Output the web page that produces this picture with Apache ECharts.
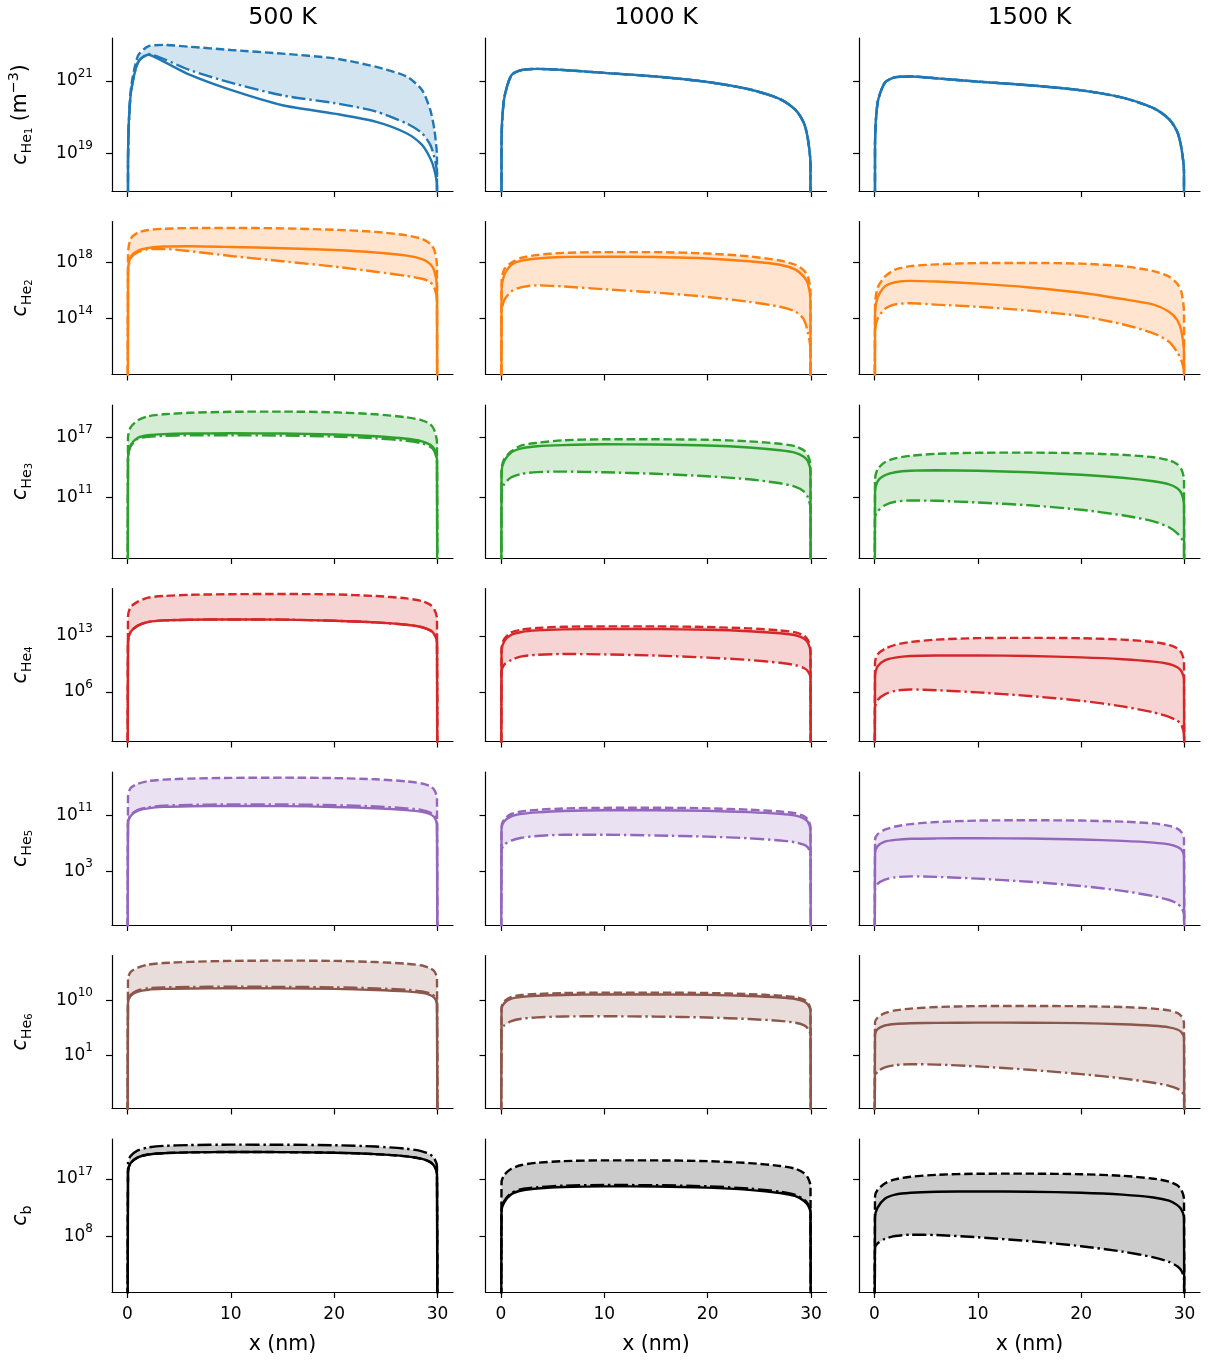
<!DOCTYPE html>
<html><head><meta charset="utf-8">
<script src="https://cdn.jsdelivr.net/npm/echarts@6/dist/echarts.min.js"></script>
<style>html,body{margin:0;padding:0;background:#fff}#c{width:1209px;height:1361px}</style>
</head><body><div id="c"></div>
<script>
// x positions (nm) where the profiles were read; concentration is zero at x = 0 and x = 30
const X = [0.05, 0.3, 1, 2, 3.5, 6, 10, 15, 20, 24, 27, 28.5, 29.3, 29.7, 29.95];
const temperatures = ['500 K', '1000 K', '1500 K'];
const xTicks = [0, 10, 20, 30];
// y tick exponents (log10) per row
const yTicks = [[19, 21], [14, 18], [11, 17], [6, 13], [3, 11], [1, 10], [8, 17]];
// values below are log10 of concentration (m^-3)
// He1
const he1_500_solid   = [18.7, 20.6, 21.5, 21.72, 21.53, 21.17, 20.75, 20.33, 20.1, 19.88, 19.56, 19.24, 18.87, 18.55, 18.1];
const he1_500_dashed  = [18.8, 20.7, 21.68, 21.95, 21.99, 21.94, 21.85, 21.75, 21.62, 21.39, 21.12, 20.75, 20.2, 19.65, 18.9];
const he1_500_dashdot = [18.7, 20.6, 21.5, 21.74, 21.6, 21.3, 20.95, 20.6, 20.39, 20.16, 19.83, 19.56, 19.24, 18.9, 18.46];
const he1_1000_solid   = [19.3, 20.5, 21.15, 21.3, 21.33, 21.3, 21.22, 21.12, 20.97, 20.77, 20.5, 20.2, 19.85, 19.4, 18.7];
const he1_1000_dashed  = [19.3, 20.5, 21.15, 21.3, 21.33, 21.3, 21.22, 21.12, 20.97, 20.77, 20.5, 20.2, 19.85, 19.4, 18.7];
const he1_1000_dashdot = [19.3, 20.5, 21.15, 21.3, 21.33, 21.3, 21.22, 21.12, 20.97, 20.77, 20.5, 20.2, 19.85, 19.4, 18.7];
const he1_1500_solid   = [19.2, 20.4, 20.95, 21.1, 21.12, 21.07, 20.98, 20.88, 20.74, 20.54, 20.25, 19.95, 19.6, 19.15, 18.5];
const he1_1500_dashed  = [19.2, 20.4, 20.95, 21.1, 21.12, 21.07, 20.98, 20.88, 20.74, 20.54, 20.25, 19.95, 19.6, 19.15, 18.5];
const he1_1500_dashdot = [19.2, 20.4, 20.95, 21.1, 21.12, 21.07, 20.98, 20.88, 20.74, 20.54, 20.25, 19.95, 19.6, 19.15, 18.5];
// He2
const he2_500_solid   = [17.3, 18.4, 18.85, 19.05, 19.15, 19.17, 19.12, 19.03, 18.9, 18.73, 18.5, 18.25, 17.9, 17.4, 16.3];
const he2_500_dashed  = [18.6, 19.7, 20.15, 20.33, 20.42, 20.47, 20.48, 20.45, 20.35, 20.2, 19.95, 19.7, 19.35, 18.9, 17.8];
const he2_500_dashdot = [17.2, 18.3, 18.75, 18.95, 18.98, 18.82, 18.48, 18.1, 17.72, 17.35, 17.05, 16.85, 16.6, 16.2, 15.3];
const he2_1000_solid   = [16.0, 17.1, 17.85, 18.15, 18.3, 18.4, 18.43, 18.4, 18.3, 18.1, 17.85, 17.5, 17.0, 16.5, 15.3];
const he2_1000_dashed  = [16.6, 17.5, 18.0, 18.35, 18.55, 18.7, 18.75, 18.75, 18.65, 18.45, 18.15, 17.85, 17.45, 17.0, 16.0];
const he2_1000_dashdot = [14.4, 15.3, 15.95, 16.25, 16.38, 16.3, 16.1, 15.86, 15.55, 15.2, 14.85, 14.5, 13.95, 13.0, 11.8];
const he2_1500_solid   = [14.2, 15.5, 16.3, 16.6, 16.7, 16.65, 16.5, 16.23, 15.85, 15.4, 15.0, 14.5, 13.9, 13.1, 11.5];
const he2_1500_dashed  = [15.0, 16.2, 17.0, 17.5, 17.75, 17.88, 17.97, 17.98, 17.93, 17.75, 17.4, 17.0, 16.5, 15.9, 14.5];
const he2_1500_dashdot = [13.0, 14.0, 14.7, 15.02, 15.1, 15.0, 14.85, 14.57, 14.18, 13.6, 12.95, 12.35, 11.6, 11.0, 10.2];
// He3
const he3_500_solid   = [15.0, 16.2, 16.95, 17.2, 17.32, 17.38, 17.4, 17.38, 17.28, 17.1, 16.85, 16.6, 16.25, 15.8, 14.8];
const he3_500_dashed  = [17.0, 18.0, 18.7, 19.1, 19.3, 19.45, 19.55, 19.57, 19.5, 19.3, 19.0, 18.7, 18.3, 17.7, 16.5];
const he3_500_dashdot = [14.9, 16.1, 16.85, 17.05, 17.15, 17.2, 17.2, 17.18, 17.08, 16.9, 16.65, 16.4, 16.05, 15.6, 14.6];
const he3_1000_solid   = [13.5, 14.6, 15.5, 15.9, 16.1, 16.22, 16.3, 16.28, 16.18, 15.98, 15.7, 15.45, 15.05, 14.6, 13.6];
const he3_1000_dashed  = [13.8, 14.8, 15.6, 16.2, 16.45, 16.7, 16.8, 16.8, 16.75, 16.6, 16.35, 16.1, 15.7, 15.2, 14.2];
const he3_1000_dashdot = [11.3, 12.3, 13.0, 13.35, 13.52, 13.57, 13.5, 13.35, 13.1, 12.8, 12.4, 12.05, 11.6, 11.0, 9.9];
const he3_1500_solid   = [11.5, 12.6, 13.2, 13.5, 13.65, 13.7, 13.65, 13.5, 13.25, 12.95, 12.6, 12.3, 11.9, 11.4, 10.3];
const he3_1500_dashed  = [12.8, 13.8, 14.5, 14.9, 15.15, 15.35, 15.45, 15.47, 15.4, 15.25, 15.0, 14.7, 14.3, 13.8, 12.8];
const he3_1500_dashdot = [9.0, 9.6, 10.2, 10.55, 10.68, 10.65, 10.48, 10.2, 9.75, 9.2, 8.6, 8.0, 7.4, 6.9, 6.3];
// He4
const he4_500_solid   = [12.2, 13.5, 14.3, 14.75, 14.95, 15.03, 15.07, 15.05, 14.9, 14.7, 14.4, 14.1, 13.7, 13.2, 12.2];
const he4_500_dashed  = [15.5, 16.6, 17.3, 17.8, 18.0, 18.15, 18.23, 18.25, 18.2, 18.0, 17.7, 17.35, 16.9, 16.3, 15.2];
const he4_500_dashdot = [12.2, 13.5, 14.3, 14.75, 14.95, 15.03, 15.07, 15.05, 14.9, 14.7, 14.4, 14.1, 13.7, 13.2, 12.2];
const he4_1000_solid   = [11.1, 12.3, 13.15, 13.5, 13.7, 13.83, 13.88, 13.87, 13.78, 13.6, 13.35, 13.1, 12.7, 12.15, 11.0];
const he4_1000_dashed  = [11.4, 12.6, 13.45, 13.8, 14.0, 14.15, 14.2, 14.2, 14.12, 13.95, 13.7, 13.45, 13.05, 12.5, 11.4];
const he4_1000_dashdot = [8.4, 9.4, 10.0, 10.45, 10.65, 10.75, 10.7, 10.55, 10.3, 10.0, 9.65, 9.35, 9.0, 8.6, 7.8];
const he4_1500_solid   = [8.0, 9.2, 9.95, 10.3, 10.5, 10.57, 10.57, 10.5, 10.33, 10.1, 9.8, 9.5, 9.1, 8.6, 7.6];
const he4_1500_dashed  = [9.7, 10.7, 11.4, 11.9, 12.25, 12.55, 12.73, 12.77, 12.72, 12.55, 12.25, 11.9, 11.45, 10.9, 9.8];
const he4_1500_dashdot = [4.0, 5.0, 5.7, 6.15, 6.32, 6.22, 5.95, 5.5, 4.9, 4.2, 3.45, 2.9, 2.4, 1.9, 0.6];
// He5
const he5_500_solid   = [9.8, 10.9, 11.65, 12.0, 12.2, 12.3, 12.33, 12.32, 12.2, 12.02, 11.75, 11.5, 11.15, 10.7, 9.7];
const he5_500_dashed  = [13.7, 14.9, 15.5, 15.9, 16.1, 16.25, 16.35, 16.38, 16.32, 16.15, 15.85, 15.55, 15.15, 14.6, 13.5];
const he5_500_dashdot = [9.9, 11.05, 11.8, 12.15, 12.38, 12.5, 12.55, 12.55, 12.45, 12.27, 12.0, 11.75, 11.4, 10.95, 9.9];
const he5_1000_solid   = [9.1, 10.1, 10.85, 11.2, 11.42, 11.62, 11.72, 11.72, 11.63, 11.45, 11.2, 10.95, 10.55, 10.05, 8.9];
const he5_1000_dashed  = [9.4, 10.4, 11.2, 11.55, 11.78, 11.98, 12.07, 12.08, 12.0, 11.8, 11.55, 11.3, 10.9, 10.4, 9.3];
const he5_1000_dashdot = [6.0, 6.8, 7.4, 7.8, 8.05, 8.22, 8.22, 8.12, 7.95, 7.72, 7.4, 7.15, 6.8, 6.4, 5.5];
const he5_1500_solid   = [5.6, 6.6, 7.25, 7.5, 7.65, 7.7, 7.72, 7.68, 7.55, 7.35, 7.1, 6.85, 6.5, 6.1, 5.2];
const he5_1500_dashed  = [7.5, 8.3, 8.95, 9.4, 9.75, 10.05, 10.25, 10.3, 10.25, 10.1, 9.85, 9.5, 9.1, 8.6, 7.6];
const he5_1500_dashdot = [0.3, 1.2, 1.8, 2.15, 2.28, 2.2, 1.95, 1.5, 0.9, 0.2, -0.55, -1.1, -1.6, -2.2, -3.1];
// He6
const he6_500_solid   = [9.6, 10.7, 11.4, 11.72, 11.85, 11.92, 11.95, 11.93, 11.85, 11.68, 11.45, 11.2, 10.85, 10.4, 9.4];
const he6_500_dashed  = [13.5, 14.6, 15.3, 15.8, 16.05, 16.25, 16.4, 16.45, 16.4, 16.22, 15.95, 15.65, 15.2, 14.7, 13.6];
const he6_500_dashdot = [9.75, 10.9, 11.62, 11.96, 12.1, 12.17, 12.2, 12.18, 12.1, 11.93, 11.7, 11.45, 11.1, 10.65, 9.6];
const he6_1000_solid   = [8.5, 9.5, 10.25, 10.55, 10.72, 10.87, 10.95, 10.95, 10.88, 10.7, 10.45, 10.2, 9.8, 9.3, 8.3];
const he6_1000_dashed  = [8.8, 9.8, 10.55, 10.85, 11.02, 11.17, 11.25, 11.25, 11.18, 11.0, 10.75, 10.5, 10.1, 9.6, 8.6];
const he6_1000_dashdot = [5.0, 5.9, 6.6, 7.0, 7.22, 7.37, 7.4, 7.35, 7.2, 6.95, 6.65, 6.35, 5.95, 5.4, 4.4];
const he6_1500_solid   = [4.4, 5.3, 5.9, 6.15, 6.27, 6.33, 6.37, 6.36, 6.28, 6.1, 5.85, 5.6, 5.25, 4.8, 3.9];
const he6_1500_dashed  = [6.3, 7.2, 7.9, 8.35, 8.65, 8.9, 9.05, 9.08, 9.03, 8.9, 8.65, 8.35, 7.95, 7.4, 6.3];
const he6_1500_dashdot = [-2.5, -1.6, -0.9, -0.55, -0.38, -0.45, -0.75, -1.3, -2.0, -2.7, -3.4, -3.9, -4.35, -4.8, -5.5];
// c_b
const cb_500_solid   = [18.2, 19.5, 20.4, 20.85, 21.05, 21.18, 21.24, 21.22, 21.12, 20.9, 20.55, 20.15, 19.65, 19.0, 17.8];
const cb_500_dashed  = [18.2, 19.5, 20.4, 20.85, 21.05, 21.18, 21.24, 21.22, 21.12, 20.9, 20.55, 20.15, 19.65, 19.0, 17.8];
const cb_500_dashdot = [19.6, 20.6, 21.5, 21.95, 22.2, 22.33, 22.39, 22.38, 22.3, 22.1, 21.75, 21.35, 20.85, 20.2, 19.0];
const cb_1000_solid   = [12.0, 13.3, 14.6, 15.2, 15.5, 15.75, 15.85, 15.83, 15.65, 15.3, 14.8, 14.3, 13.6, 12.9, 11.8];
const cb_1000_dashed  = [16.5, 17.6, 18.6, 19.2, 19.55, 19.8, 19.93, 19.92, 19.8, 19.5, 19.05, 18.6, 17.95, 17.2, 15.9];
const cb_1000_dashdot = [12.2, 13.5, 14.8, 15.4, 15.7, 15.95, 16.05, 16.03, 15.85, 15.5, 15.0, 14.5, 13.8, 13.1, 12.0];
const cb_1500_solid   = [11.0, 12.5, 13.9, 14.55, 14.85, 15.0, 15.05, 15.0, 14.85, 14.55, 14.1, 13.6, 12.9, 12.2, 11.0];
const cb_1500_dashed  = [14.2, 15.3, 16.3, 16.95, 17.35, 17.65, 17.83, 17.84, 17.75, 17.5, 17.05, 16.6, 16.0, 15.3, 13.9];
const cb_1500_dashdot = [6.2, 6.9, 7.6, 8.05, 8.25, 8.2, 7.85, 7.25, 6.45, 5.6, 4.7, 4.0, 3.3, 2.6, 1.4];

const panels = [
  [[he1_500_solid, he1_500_dashed, he1_500_dashdot], [he1_1000_solid, he1_1000_dashed, he1_1000_dashdot], [he1_1500_solid, he1_1500_dashed, he1_1500_dashdot]],
  [[he2_500_solid, he2_500_dashed, he2_500_dashdot], [he2_1000_solid, he2_1000_dashed, he2_1000_dashdot], [he2_1500_solid, he2_1500_dashed, he2_1500_dashdot]],
  [[he3_500_solid, he3_500_dashed, he3_500_dashdot], [he3_1000_solid, he3_1000_dashed, he3_1000_dashdot], [he3_1500_solid, he3_1500_dashed, he3_1500_dashdot]],
  [[he4_500_solid, he4_500_dashed, he4_500_dashdot], [he4_1000_solid, he4_1000_dashed, he4_1000_dashdot], [he4_1500_solid, he4_1500_dashed, he4_1500_dashdot]],
  [[he5_500_solid, he5_500_dashed, he5_500_dashdot], [he5_1000_solid, he5_1000_dashed, he5_1000_dashdot], [he5_1500_solid, he5_1500_dashed, he5_1500_dashdot]],
  [[he6_500_solid, he6_500_dashed, he6_500_dashdot], [he6_1000_solid, he6_1000_dashed, he6_1000_dashdot], [he6_1500_solid, he6_1500_dashed, he6_1500_dashdot]],
  [[cb_500_solid, cb_500_dashed, cb_500_dashdot], [cb_1000_solid, cb_1000_dashed, cb_1000_dashdot], [cb_1500_solid, cb_1500_dashed, cb_1500_dashdot]]
];

const yRanges = [[17.97, 22.18], [10.01, 20.94], [4.93, 20.23], [-0.19, 18.94], [-4.67, 17.19], [-7.59, 17.28], [-0.74, 23.28]];
const colors = ['#1f77b4', '#ff7f0e', '#2ca02c', '#d62728', '#9467bd', '#8c564b', '#000000'];
const yNames = [
  '{c|c}{h|He}{n|1}{t| (m}{e|−3}{t|)}',
  '{c|c}{h|He}{n|2}', '{c|c}{h|He}{n|3}', '{c|c}{h|He}{n|4}',
  '{c|c}{h|He}{n|5}', '{c|c}{h|He}{n|6}', '{c|c}{h|b}'
];
const FONT = 'DejaVu Sans';
const FLOOR = -40; // log10 of zero concentration at the boundaries (clipped)

const hexToRgba = (h, a) => {
  const n = parseInt(h.slice(1), 16);
  return `rgba(${(n >> 16) & 255},${(n >> 8) & 255},${n & 255},${a})`;
};
const full = arr => [[0, FLOOR]].concat(X.map((x, i) => [x, arr[i]]), [[30, FLOOR]]);

const GL = 112, GT = 38, GW = 341, GH = 153, DX = 373.5, DY = 183.5;
const grids = [], xAxes = [], yAxes = [], series = [];
const axisCol = {color: '#000', width: 1.2};
const LW = 2.4;
const DASH = [8.5, 3.8];
const DASHDOT = [14, 3.8, 2.4, 3.8];
const SMOOTH = 0.25;
for (let r = 0; r < 7; r++) {
  for (let c = 0; c < 3; c++) {
    const idx = r * 3 + c;
    grids.push({left: GL + c * DX, top: GT + r * DY, width: GW, height: GH, containLabel: false});
    xAxes.push({
      type: 'value', gridIndex: idx, min: -1.5, max: 31.5,
      axisLine: {show: true, onZero: false, lineStyle: axisCol},
      axisTick: {show: true, customValues: xTicks, length: 6, lineStyle: axisCol},
      axisLabel: {show: r === 6, customValues: xTicks, fontSize: 17, color: '#000', fontFamily: FONT, margin: 14},
      splitLine: {show: false},
      name: r === 6 ? 'x (nm)' : '', nameLocation: 'middle', nameGap: 42,
      nameTextStyle: {fontSize: 20.5, color: '#000', fontFamily: FONT}
    });
    yAxes.push({
      type: 'value', gridIndex: idx, min: yRanges[r][0], max: yRanges[r][1],
      axisLine: {show: true, onZero: false, lineStyle: axisCol},
      axisTick: {show: true, customValues: yTicks[r], length: 6, lineStyle: axisCol},
      axisLabel: {
        show: c === 0, customValues: yTicks[r], margin: 19,
        formatter: v => '{b|10}{s|' + v + '}',
        rich: {
          b: {fontSize: 17, fontFamily: FONT, color: '#000', lineHeight: 27},
          s: {fontSize: 12, fontFamily: FONT, color: '#000', lineHeight: 12, verticalAlign: 'top'}
        }
      },
      splitLine: {show: false},
      name: c === 0 ? yNames[r] : '', nameLocation: 'middle', nameRotate: 90, nameGap: 78,
      nameTextStyle: {
        color: '#000', fontFamily: FONT,
        rich: {
          c: {fontSize: 20.5, fontStyle: 'italic', fontFamily: FONT, lineHeight: 27, color: '#000'},
          h: {fontSize: 14.3, fontFamily: FONT, lineHeight: 14, verticalAlign: 'bottom', color: '#000'},
          n: {fontSize: 10, fontFamily: FONT, lineHeight: 8, verticalAlign: 'bottom', color: '#000'},
          t: {fontSize: 20.5, fontFamily: FONT, lineHeight: 27, color: '#000'},
          e: {fontSize: 14.3, fontFamily: FONT, lineHeight: 12, verticalAlign: 'top', color: '#000'}
        }
      }
    });
    const [solid, dashed, dashdot] = panels[r][c];
    const col = colors[r];
    const lo = yRanges[r][0];
    const topPts = full(dashed), basePts = full(dashdot);
    series.push({
      type: 'custom', xAxisIndex: idx, yAxisIndex: idx, silent: true, z: 1, clip: true,
      data: [[0, 0]],
      renderItem: (params, api) => {
        const pts = [];
        topPts.forEach(p => pts.push(api.coord([p[0], Math.max(p[1], lo)])));
        for (let i = basePts.length - 1; i >= 0; i--) pts.push(api.coord([basePts[i][0], Math.max(basePts[i][1], lo)]));
        return {type: 'polygon', shape: {points: pts}, style: {fill: hexToRgba(col, 0.2), stroke: null}};
      }
    });
    const lineCommon = {type: 'line', xAxisIndex: idx, yAxisIndex: idx, symbol: 'none', smooth: SMOOTH};
    series.push(Object.assign({}, lineCommon, {data: full(dashed),
      lineStyle: {color: col, width: LW, type: DASH, cap: 'butt'}, z: 3}));
    series.push(Object.assign({}, lineCommon, {data: full(dashdot),
      lineStyle: {color: col, width: LW, type: DASHDOT, cap: 'butt'}, z: 3}));
    series.push(Object.assign({}, lineCommon, {data: full(solid),
      lineStyle: {color: col, width: LW, type: 'solid'}, z: 4}));
  }
}

const chart = echarts.init(document.getElementById('c'), null, {renderer: 'canvas', width: 1209, height: 1361});
chart.setOption({
  animation: false,
  backgroundColor: '#fff',
  graphic: temperatures.map((t, c) => ({
    type: 'text', x: GL + c * DX + GW / 2, y: 18,
    style: {text: t, fontSize: 23.8, fontFamily: FONT, fill: '#000', align: 'center', verticalAlign: 'middle'}
  })),
  grid: grids, xAxis: xAxes, yAxis: yAxes, series: series
});
</script></body></html>
